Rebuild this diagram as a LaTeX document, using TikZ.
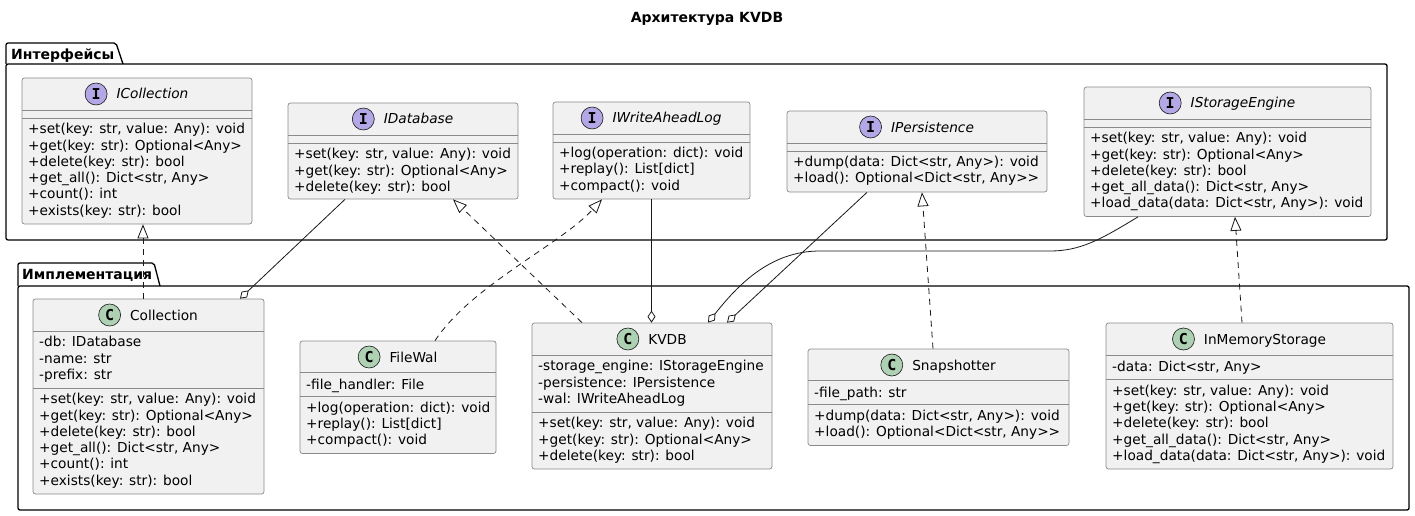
\documentclass[tikz,border=0pt]{standalone}
\usepackage{fontspec}
\setmainfont{DejaVu Sans}[Ligatures=TeXOff]
\newfontfamily\iconfont{DejaVu Sans Mono}
\usetikzlibrary{arrows.meta,positioning,fit}

\definecolor{clsfill}{HTML}{F1F1F1}
\definecolor{clsline}{HTML}{8A8A8A}
\definecolor{ifill}{HTML}{B4A7E5}
\definecolor{cfill}{HTML}{ADD1B2}
\definecolor{lnk}{HTML}{181818}

\tikzset{
  cls/.style={draw=clsline, fill=clsfill, rounded corners=2.5pt, line width=0.7pt, inner sep=0pt},
  sepl/.style={draw=clsline, line width=0.7pt},
  badge/.style={circle, draw=lnk, line width=0.6pt, minimum size=22pt, inner sep=0pt,
    font=\iconfont\bfseries\fontsize{15}{15}\selectfont},
  ibadge/.style={badge, fill=ifill},
  cbadge/.style={badge, fill=cfill},
  ctitle/.style={anchor=base, inner sep=0pt, text height=10pt, text depth=0pt,
    font=\fontsize{13.7}{16.3}\selectfont},
  ititle/.style={ctitle, font=\fontsize{13.7}{16.3}\selectfont\itshape},
  % first baseline sits on the given point
  mem/.style={anchor=north west, yshift=11.41pt, align=left, inner sep=0pt,
    font=\fontsize{13.7}{16.3}\selectfont, execute at begin node=\strut},
  pkg/.style={draw=black, line width=1.3pt, rounded corners=2pt},
  pkglbl/.style={anchor=base west, inner sep=0pt, font=\bfseries\fontsize{14}{16}\selectfont},
  real/.style={draw=lnk, line width=0.8pt, dash pattern=on 6pt off 5pt,
    -{Triangle[open, length=14pt, width=11pt, fill=white]}},
  aggr/.style={draw=lnk, line width=0.8pt, -{Diamond[open, length=12pt, width=8pt, fill=white]}},
}

\begin{document}
\begin{tikzpicture}[x=1pt, y=-1pt]
\useasboundingbox (0,0) rectangle (1415,516);

\node[anchor=base, inner sep=0pt, font=\bfseries\fontsize{14}{16}\selectfont] (title) at (707,23) {Архитектура KVDB};

% packages
\draw[pkg] (6,64) rectangle (1387,240);
\draw[pkg] (6,64) -- (6,43) -- (116,43) -- (123,64);
\node[pkglbl] (pint) at (11,59.5) {Интерфейсы};

\draw[pkg] (18,286) rectangle (1409,510);
\draw[pkg] (18,286) -- (18,263) -- (154,263) -- (160,286);
\node[pkglbl] (pimp) at (22,279.5) {Имплементация};

% interfaces
\node[cls, fit={(22,78) (252,224)}] (icoll) {};
\draw[sepl] (22,110) -- (252,110) (22,118) -- (252,118);
\node[ititle] (icoll-t) at (152.5,99) {ICollection};
\node[ibadge, left=9pt of icoll-t] (icoll-b) {I};
\node[mem] (icoll-m) at (28,134.5) {+set(key: str, value: Any): void\\+get(key: str): Optional<Any>\\+delete(key: str): bool\\+get\_all(): Dict<str, Any>\\+count(): int\\+exists(key: str): bool};

\node[cls, fit={(288,103) (518,199)}] (idb) {};
\draw[sepl] (288,135) -- (518,135) (288,143) -- (518,143);
\node[ititle] (idb-t) at (418.5,124) {IDatabase};
\node[ibadge, left=9pt of idb-t] (idb-b) {I};
\node[mem] (idb-m) at (294,159.5) {+set(key: str, value: Any): void\\+get(key: str): Optional<Any>\\+delete(key: str): bool};

\node[cls, fit={(553,102) (750,199)}] (iwal) {};
\draw[sepl] (553,134) -- (750,134) (553,142) -- (750,142);
\node[ititle] (iwal-t) at (667,123) {IWriteAheadLog};
\node[ibadge, left=9pt of iwal-t] (iwal-b) {I};
\node[mem] (iwal-m) at (559,158.5) {+log(operation: dict): void\\+replay(): List[dict]\\+compact(): void};

\node[cls, fit={(787,111) (1047,192)}] (ipers) {};
\draw[sepl] (787,143) -- (1047,143) (787,151) -- (1047,151);
\node[ititle] (ipers-t) at (932.5,132) {IPersistence};
\node[ibadge, left=9pt of ipers-t] (ipers-b) {I};
\node[mem] (ipers-m) at (793,167.5) {+dump(data: Dict<str, Any>): void\\+load(): Optional<Dict<str, Any>>};

\node[cls, fit={(1084,87) (1371,216.5)}] (istore) {};
\draw[sepl] (1084,119) -- (1371,119) (1084,127) -- (1371,127);
\node[ititle] (istore-t) at (1243,108) {IStorageEngine};
\node[ibadge, left=9pt of istore-t] (istore-b) {I};
\node[mem] (istore-m) at (1090,143.5) {+set(key: str, value: Any): void\\+get(key: str): Optional<Any>\\+delete(key: str): bool\\+get\_all\_data(): Dict<str, Any>\\+load\_data(data: Dict<str, Any>): void};

% implementations
\node[cls, fit={(33,299) (264,494)}] (coll) {};
\draw[sepl] (33,331) -- (264,331) (33,388) -- (264,388);
\node[ctitle] (coll-t) at (164,320) {Collection};
\node[cbadge, left=9pt of coll-t] (coll-b) {C};
\node[mem] (coll-a) at (39,347.5) {-db: IDatabase\\-name: str\\-prefix: str};
\node[mem] (coll-m) at (39,404.5) {+set(key: str, value: Any): void\\+get(key: str): Optional<Any>\\+delete(key: str): bool\\+get\_all(): Dict<str, Any>\\+count(): int\\+exists(key: str): bool};

\node[cls, fit={(300,341) (496,453.5)}] (fwal) {};
\draw[sepl] (300,372.5) -- (496,372.5) (300,396.5) -- (496,396.5);
\node[ctitle] (fwal-t) at (413.5,362) {FileWal};
\node[cbadge, left=9pt of fwal-t] (fwal-b) {C};
\node[mem] (fwal-a) at (306,389) {-file\_handler: File};
\node[mem] (fwal-m) at (306,413) {+log(operation: dict): void\\+replay(): List[dict]\\+compact(): void};

\node[cls, fit={(532,323) (772,469)}] (kvdb) {};
\draw[sepl] (532,355) -- (772,355) (532,412) -- (772,412);
\node[ctitle] (kvdb-t) at (667.5,344) {KVDB};
\node[cbadge, left=9pt of kvdb-t] (kvdb-b) {C};
\node[mem] (kvdb-a) at (538,371.5) {-storage\_engine: IStorageEngine\\-persistence: IPersistence\\-wal: IWriteAheadLog};
\node[mem] (kvdb-m) at (538,428.5) {+set(key: str, value: Any): void\\+get(key: str): Optional<Any>\\+delete(key: str): bool};

\node[cls, fit={(808,349) (1069,445.5)}] (snap) {};
\draw[sepl] (808,380.5) -- (1069,380.5) (808,404.5) -- (1069,404.5);
\node[ctitle] (snap-t) at (954,370) {Snapshotter};
\node[cbadge, left=9pt of snap-t] (snap-b) {C};
\node[mem] (snap-a) at (814,397) {-file\_path: str};
\node[mem] (snap-m) at (814,421) {+dump(data: Dict<str, Any>): void\\+load(): Optional<Dict<str, Any>>};

\node[cls, fit={(1106,323) (1393,469)}] (imem) {};
\draw[sepl] (1106,355) -- (1393,355) (1106,379.5) -- (1393,379.5);
\node[ctitle] (imem-t) at (1265,344) {InMemoryStorage};
\node[cbadge, left=9pt of imem-t] (imem-b) {C};
\node[mem] (imem-a) at (1112,371.5) {-data: Dict<str, Any>};
\node[mem] (imem-m) at (1112,396) {+set(key: str, value: Any): void\\+get(key: str): Optional<Any>\\+delete(key: str): bool\\+get\_all\_data(): Dict<str, Any>\\+load\_data(data: Dict<str, Any>): void};

% relations
\draw[real] (coll.north -| 143,0) -- (icoll.south -| 143,0);
\draw[aggr] (idb.south -| 345,0) -- (coll.north -| 240,0);
\draw[real] (kvdb.north -| 582,0) -- (idb.south -| 453,0);
\draw[real] (fwal.north -| 435,0) .. controls (472,285) and (560,245) .. (iwal.south -| 602,0);
\draw[aggr] (iwal.south) -- (iwal.south |- kvdb.north);
\draw[aggr] (ipers.south -| 867,0) -- (kvdb.north -| 727,0);
\draw[aggr] (istore.south -| 1138,0) .. controls (1100,240) and (1080,251) .. (1050,251)
  -- (820,251) .. controls (770,251) and (738,285) .. (kvdb.north -| 708,0);
\draw[real] (imem.north -| 1242,0) -- (istore.south -| 1235,0);
\draw[real] (snap.north -| 933,0) -- (ipers.south -| 922,0);
\end{tikzpicture}
\end{document}
